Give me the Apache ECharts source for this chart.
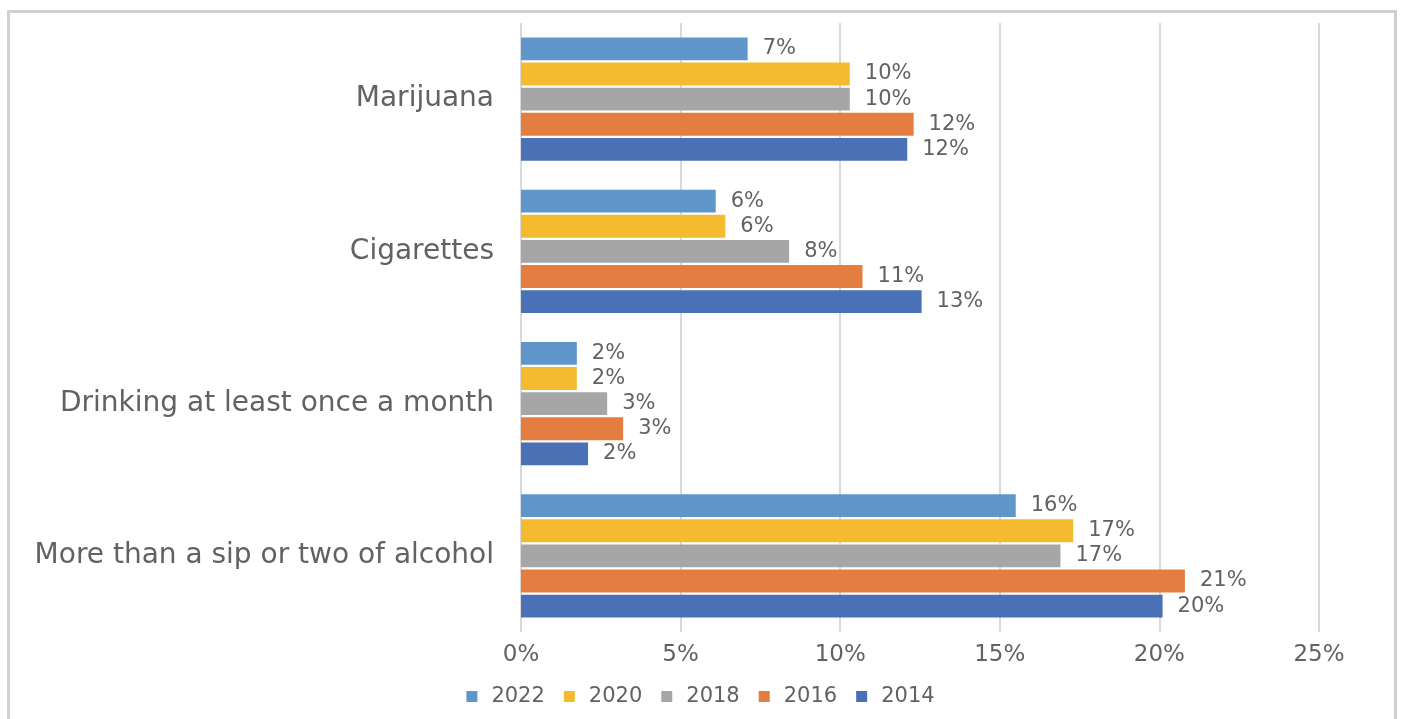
<!DOCTYPE html>
<html><head><meta charset="utf-8">
<script src="https://cdn.jsdelivr.net/npm/echarts@6/dist/echarts.min.js"></script>
<style>html,body{margin:0;padding:0;background:#fff}#c{width:1401px;height:719px}</style>
</head><body><div id="c"></div>
<script>
const categories = ["Marijuana", "Cigarettes", "Drinking at least once a month", "More than a sip or two of alcohol"];
const years = ["2022", "2020", "2018", "2016", "2014"];
const v2022 = [7.1, 6.1, 1.75, 15.5];
const v2020 = [10.3, 6.4, 1.75, 17.3];
const v2018 = [10.3, 8.4, 2.7, 16.9];
const v2016 = [12.3, 10.7, 3.2, 20.8];
const v2014 = [12.1, 12.55, 2.1, 20.1];
const xTicks = [0, 5, 10, 15, 20, 25];
const colors = ["#6097CA", "#F4BB30", "#A6A6A6", "#E47E40", "#4A70B6"];
const values = [v2022, v2020, v2018, v2016, v2014];
const FONT = "DejaVu Sans";
const TXT = "#626262";
const chart = echarts.init(document.getElementById('c'));
chart.setOption({
  animation: false,
  textStyle: { fontFamily: FONT },
  graphic: [{ type: 'rect', shape: { x: 8.5, y: 11.5, width: 1387, height: 740 }, style: { fill: 'none', stroke: '#d0d0d0', lineWidth: 3 }, silent: true }],
  grid: { left: 521, right: 82, top: 23, bottom: 87 },
  legend: {
    bottom: 7, left: 'center', itemWidth: 11, itemHeight: 11, itemGap: 19,
    icon: 'rect', data: years,
    textStyle: { color: TXT, fontSize: 21, fontFamily: FONT, padding: [0, 0, 0, 9] }
  },
  xAxis: {
    type: 'value', min: xTicks[0], max: xTicks[xTicks.length - 1], interval: 5,
    axisLine: { show: false }, axisTick: { show: false },
    splitLine: { lineStyle: { color: '#d9d9d9', width: 2 } },
    axisLabel: { color: TXT, fontSize: 23, margin: 12, formatter: v => v + '%' }
  },
  yAxis: {
    type: 'category', data: categories, inverse: true,
    axisLine: { show: false }, axisTick: { show: false },
    axisLabel: { color: TXT, fontSize: 28, margin: 27 }
  },
  series: years.map((y, i) => ({
    name: y, type: 'bar', data: values[i],
    barCategoryGap: '19%', barGap: '10%',
    itemStyle: { color: colors[i] },
    label: { show: true, position: 'right', distance: 15, color: TXT, fontSize: 21, fontFamily: FONT,
      formatter: p => Math.round(p.value) + '%' }
  }))
});
</script></body></html>
